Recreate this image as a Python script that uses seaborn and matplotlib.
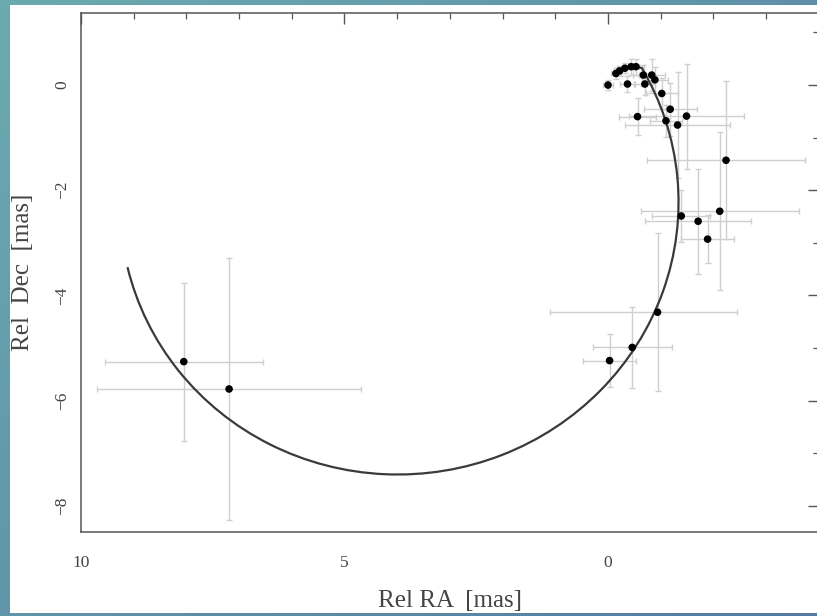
import numpy as np
import matplotlib
matplotlib.use("Agg")
import matplotlib.pyplot as plt
import seaborn as sns
import pandas as pd
from matplotlib.patches import Arc, Rectangle
from matplotlib.ticker import MultipleLocator

# ---- data ----
rel_ra = [0.00, -0.15, -0.22, -0.32, -0.44, -0.53, -0.37, -0.67, -0.70, -0.83,
          -0.89, -1.02, -1.18, -1.10, -0.56, -1.32, -1.49, -2.24, -1.39, -1.71,
          -2.12, -1.89, -0.94, -0.46, -0.03, 8.05, 7.19]
rel_dec = [0.00, 0.22, 0.27, 0.32, 0.35, 0.35, 0.02, 0.19, 0.02, 0.19,
           0.10, -0.16, -0.46, -0.68, -0.60, -0.76, -0.59, -1.43, -2.49, -2.59,
           -2.40, -2.93, -4.32, -4.99, -5.24, -5.26, -5.78]
ra_err_minus = [0.10, 0.10, 0.10, 0.15, 0.15, 0.15, 0.15, 0.20, 0.20, 0.25,
                0.25, 0.30, 0.50, 0.30, 0.35, 1.00, 1.10, 1.50, 0.55, 1.00,
                1.50, 0.50, 1.50, 0.75, 0.50, 1.50, 2.50]
ra_err_plus = [0.10, 0.10, 0.10, 0.15, 0.15, 0.15, 0.15, 0.20, 0.20, 0.25,
               0.25, 0.30, 0.50, 0.30, 0.35, 1.00, 1.10, 1.50, 0.55, 1.00,
               1.50, 0.50, 2.05, 0.75, 0.50, 1.50, 2.50]
dec_err = [0.10, 0.10, 0.10, 0.10, 0.15, 0.15, 0.15, 0.20, 0.20, 0.30,
           0.25, 0.30, 0.50, 0.30, 0.35, 1.00, 1.00, 1.50, 0.50, 1.00,
           1.50, 0.45, 1.50, 0.77, 0.50, 1.50, 2.50]

# orbit model: broad ellipse arc plus the short hook at its start
orbit_center = (3.96, -2.255)
orbit_width = 10.30
orbit_height = 10.60
orbit_angle = 84.424
orbit_theta1 = 66.1
orbit_theta2 = -97.6
hook_ra = [-0.16, -0.30, -0.45, -0.62]
hook_dec = [0.21, 0.31, 0.35, 0.33]

x_label = "Rel RA  [mas]"
y_label = "Rel  Dec  [mas]"

df = pd.DataFrame({"ra": rel_ra, "dec": rel_dec})

sns.set_theme(style="white")
plt.rcParams["font.family"] = ["Liberation Serif", "DejaVu Serif"]
plt.rcParams["axes.unicode_minus"] = True

W, H = 817, 616
fig = plt.figure(figsize=(W / 100, H / 100), dpi=100)

# gradient frame
bg = fig.add_axes([0, 0, 1, 1], zorder=-10)
c1 = np.array([0.42, 0.67, 0.69])
c2 = np.array([0.33, 0.48, 0.63])
gx, gy = np.meshgrid(np.linspace(0, 1, 200), np.linspace(0, 1, 150))
t = np.clip(0.55 * gx + 0.45 * gy, 0, 1)[..., None]
bg.imshow(c1 * (1 - t) + c2 * t, aspect="auto", extent=[0, 1, 0, 1], origin="upper")
bg.add_patch(Rectangle((10 / W, 3 / H), 1, (613 - 5) / H, transform=bg.transAxes,
                       facecolor="white", edgecolor="none"))
bg.set_xlim(0, 1); bg.set_ylim(0, 1)
bg.axis("off")

left, right = 81, 818.8
top, bottom = 12.5, 532
ax = fig.add_axes([left / W, (H - bottom) / H, (right - left) / W, (bottom - top) / H])
ax.set_facecolor("white")

ax.errorbar(rel_ra, rel_dec, xerr=[ra_err_minus, ra_err_plus], yerr=dec_err,
            fmt="none", ecolor="#cfcfcf", elinewidth=1.0, capsize=2.5, capthick=1.0, zorder=1)
ax.add_patch(Arc(orbit_center, orbit_width, orbit_height, angle=orbit_angle,
                 theta1=orbit_theta1, theta2=orbit_theta2, color="#3a3a3a", lw=1.6, zorder=2))
ax.plot(hook_ra, hook_dec, color="#3a3a3a", lw=1.6, zorder=2, solid_capstyle="round")
sns.scatterplot(data=df, x="ra", y="dec", ax=ax, color="black", s=30,
                edgecolor="none", zorder=3, legend=False)

ax.set_xlim(10, -4)
ax.set_ylim(-8.5, 1.38)
ax.xaxis.set_major_locator(MultipleLocator(5))
ax.xaxis.set_minor_locator(MultipleLocator(1))
ax.yaxis.set_major_locator(MultipleLocator(2))
ax.yaxis.set_minor_locator(MultipleLocator(1))

for sp in ax.spines.values():
    sp.set_color("#555555")
    sp.set_linewidth(1.1)
ax.tick_params(which="both", direction="in", top=True, right=True, color="#555555",
               labelcolor="#444444", labelsize=12.5)
ax.tick_params(which="major", length=8, width=1.0)
ax.tick_params(which="minor", length=4, width=0.9)
ax.tick_params(axis="x", which="major", pad=16.5)
ax.tick_params(axis="y", which="major", pad=8, labelrotation=90)
for lab in ax.get_yticklabels():
    lab.set_va("center")

ax.set_xlabel(x_label, fontsize=18, color="#444444")
ax.set_ylabel(y_label, fontsize=18, color="#444444")
ax.xaxis.set_label_coords(0.5, -0.112)
ax.yaxis.set_label_coords(-0.064, 0.5)

fig.savefig("out.png", dpi=100)
